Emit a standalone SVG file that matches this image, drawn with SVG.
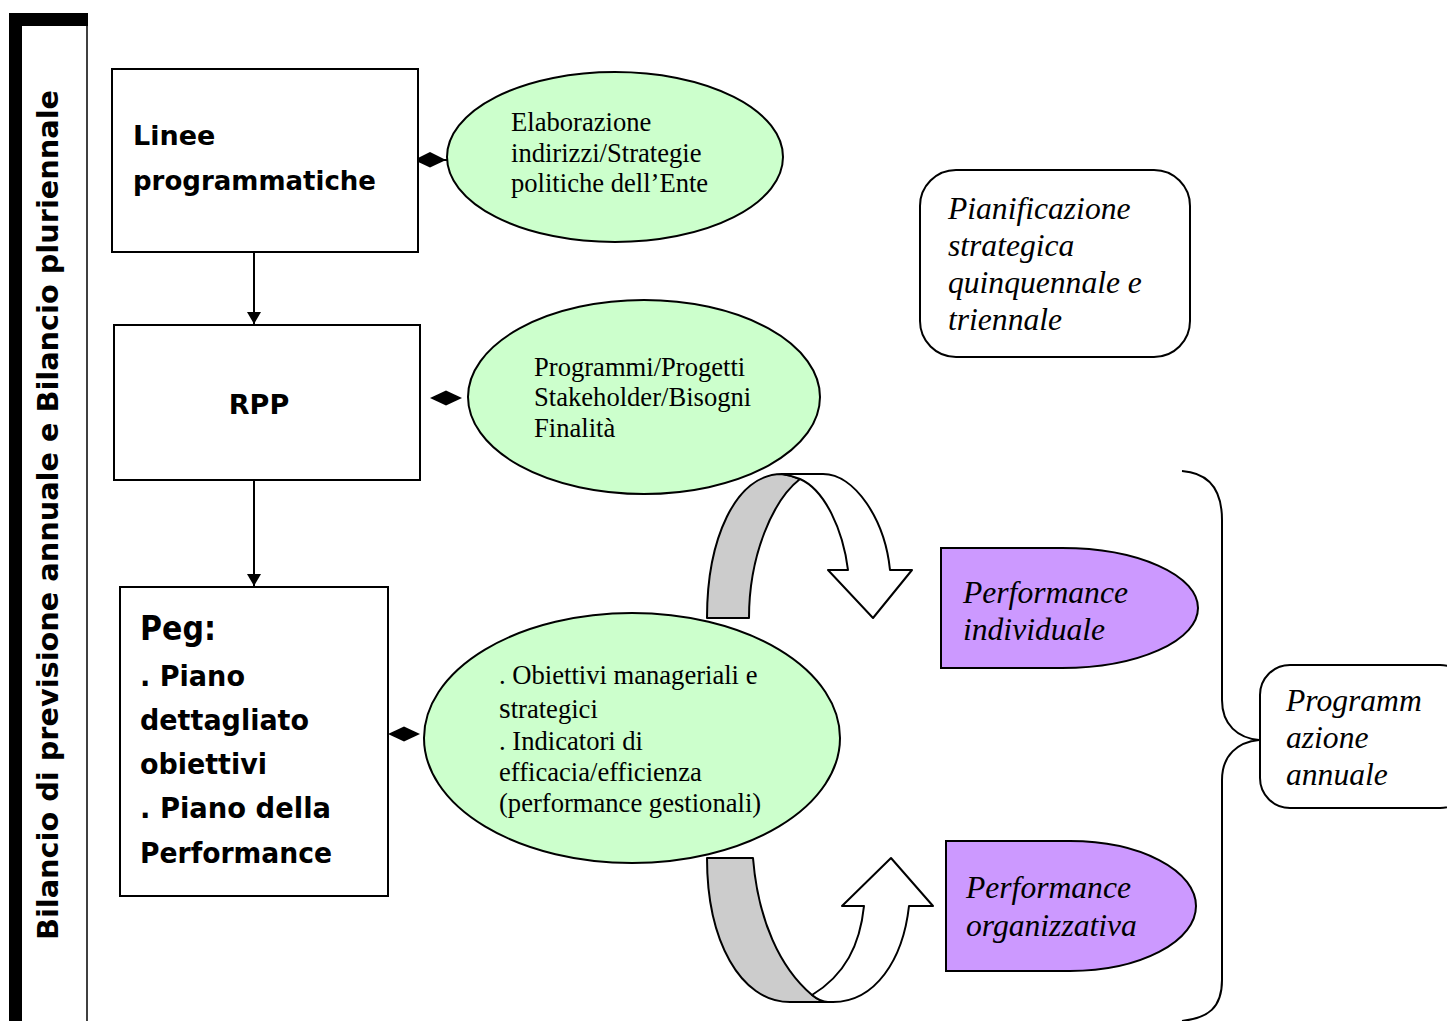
<svg xmlns="http://www.w3.org/2000/svg" width="1447" height="1021" viewBox="0 0 1447 1021">
<defs>
<style>
.bx{fill:#fff;stroke:#000;stroke-width:2}
.el{fill:#ccffcc;stroke:#000;stroke-width:2}
.pu{fill:#cc99ff;stroke:#000;stroke-width:2}
.rr{fill:#fff;stroke:#000;stroke-width:2}
.cb{font-family:"DejaVu Sans",sans-serif;font-weight:bold;fill:#000}
.sf{font-family:"Liberation Serif","Times New Roman",serif;font-size:26.6px;fill:#000}
.it{font-family:"Liberation Serif","Times New Roman",serif;font-style:italic;font-size:31.6px;fill:#000}
.ln{stroke:#000;stroke-width:2;fill:none}
.dm{fill:#000}
.gr{fill:#cccccc;stroke:#000;stroke-width:2;stroke-linejoin:round}
.wh{fill:#fff;stroke:#000;stroke-width:2;stroke-linejoin:round}
</style>
<marker id="ah" viewBox="0 0 12 14" refX="12" refY="7" markerWidth="12" markerHeight="14" markerUnits="userSpaceOnUse" orient="auto">
<path d="M0,0 L12,7 L0,14 Z" fill="#000"/>
</marker>
</defs>
<rect width="1447" height="1021" fill="#fff"/>

<g id="side-bar">
<line x1="87" y1="20" x2="87" y2="1021" stroke="#000" stroke-width="1.5"/>
<rect x="9" y="13" width="79" height="13" fill="#000"/>
<rect x="9" y="13" width="13" height="1008" fill="#000"/>
<text class="cb" font-size="28" transform="translate(58,515) rotate(-90)" text-anchor="middle" textLength="850" lengthAdjust="spacingAndGlyphs">Bilancio di previsione annuale e Bilancio pluriennale</text>
</g>

<g id="connectors">
<line class="ln" x1="254" y1="252" x2="254" y2="324" marker-end="url(#ah)"/>
<line class="ln" x1="254" y1="480" x2="254" y2="586" marker-end="url(#ah)"/>
<line class="ln" x1="418" y1="160" x2="447" y2="160"/>
<path class="dm" d="M414,160 L430,152 L446,160 L430,167.5 Z"/>
<path class="dm" d="M430,398 L446,390.5 L462,398 L446,405.5 Z"/>
<path class="dm" d="M388,734 L404,726.5 L420,734 L404,741.5 Z"/>
<path class="ln" d="M1182,471 C1210,473 1222,490 1222,520 L1222,700 C1222,725 1238,738 1259,740 C1238,742 1222,755 1222,780 L1222,980 C1222,1008 1208,1018 1182,1021"/>
</g>

<g id="linee">
<rect class="bx" x="112" y="69" width="306" height="183"/>
<text class="cb" font-size="27" x="133" y="145">Linee</text>
<text class="cb" font-size="27" x="133" y="190" textLength="243" lengthAdjust="spacingAndGlyphs">programmatiche</text>
</g>

<g id="rpp">
<rect class="bx" x="114" y="325" width="306" height="155"/>
<text class="cb" font-size="27" x="259" y="414" text-anchor="middle">RPP</text>
</g>

<g id="peg">
<rect class="bx" x="120" y="587" width="268" height="309"/>
<text class="cb" font-size="33" x="140" y="640" textLength="76" lengthAdjust="spacingAndGlyphs">Peg:</text>
<text class="cb" font-size="28" x="140" y="686" textLength="105" lengthAdjust="spacingAndGlyphs">. Piano</text>
<text class="cb" font-size="28" x="140" y="730" textLength="169" lengthAdjust="spacingAndGlyphs">dettagliato</text>
<text class="cb" font-size="28" x="140" y="774" textLength="127" lengthAdjust="spacingAndGlyphs">obiettivi</text>
<text class="cb" font-size="28" x="140" y="818" textLength="191" lengthAdjust="spacingAndGlyphs">. Piano della</text>
<text class="cb" font-size="28" x="140" y="863" textLength="192" lengthAdjust="spacingAndGlyphs">Performance</text>
</g>

<g id="ellipse-indirizzi">
<ellipse class="el" cx="615" cy="157" rx="168" ry="85"/>
<text class="sf" x="511" y="131">Elaborazione</text>
<text class="sf" x="511" y="162">indirizzi/Strategie</text>
<text class="sf" x="511" y="192">politiche dell’Ente</text>
</g>

<g id="ellipse-programmi">
<ellipse class="el" cx="644" cy="397" rx="176" ry="97"/>
<text class="sf" x="534" y="376">Programmi/Progetti</text>
<text class="sf" x="534" y="406">Stakeholder/Bisogni</text>
<text class="sf" x="534" y="437">Finalità</text>
</g>

<g id="ellipse-obiettivi">
<ellipse class="el" cx="632" cy="738" rx="208" ry="125"/>
<text class="sf" x="499" y="684">. Obiettivi manageriali e</text>
<text class="sf" x="499" y="718"><tspan font-size="30">s</tspan>trategici</text>
<text class="sf" x="499" y="750">. Indicatori di</text>
<text class="sf" x="499" y="781">efficacia/efficienza</text>
<text class="sf" x="499" y="812">(performance gestionali)</text>
</g>

<g id="pianificazione">
<rect class="rr" x="920" y="170" width="270" height="187" rx="36" ry="36"/>
<text class="it" x="948" y="219">Pianificazione</text>
<text class="it" x="948" y="256">strategica</text>
<text class="it" x="948" y="293">quinquennale e</text>
<text class="it" x="948" y="330">triennale</text>
</g>

<g id="arrow-top">
<path class="gr" d="M707,618 C707,540 735,474 782,474 C789,475 795,477 800,479 C773,500 749,555 749,618 Z"/>
<path class="wh" d="M782,474 L823,474 C855,474 885,520 890,570 L912,570 L873,618 L828,570 L848,570 C843,530 825,490 800,479 C795,477 789,475 782,474 Z"/>
</g>

<g id="arrow-bottom">
<path class="gr" d="M707,858 L753,858 C758,920 780,968 812,995 C817,999 822,1002 828,1002 L790,1002 C740,1002 707,940 707,858 Z"/>
<path class="wh" d="M812,995 C845,975 860,945 864,906 L842,906 L891,858 L933,906 L909,906 C903,960 875,1002 833,1002 L828,1002 C822,1002 817,999 812,995 Z"/>
</g>

<g id="perf-individuale">
<path class="pu" d="M941,548 L1062,548 A136,60 0 0 1 1062,668 L941,668 Z"/>
<text class="it" x="963" y="603">Performance</text>
<text class="it" x="963" y="640">individuale</text>
</g>

<g id="perf-organizzativa">
<path class="pu" d="M946,841 L1070,841 A126,65 0 0 1 1070,971 L946,971 Z"/>
<text class="it" x="966" y="898">Performance</text>
<text class="it" x="966" y="936">organizzativa</text>
</g>

<g id="programmazione">
<rect class="rr" x="1260" y="665" width="210" height="143" rx="30" ry="30"/>
<text class="it" x="1286" y="711">Programm</text>
<text class="it" x="1286" y="748">azione</text>
<text class="it" x="1286" y="785">annuale</text>
</g>
</svg>
